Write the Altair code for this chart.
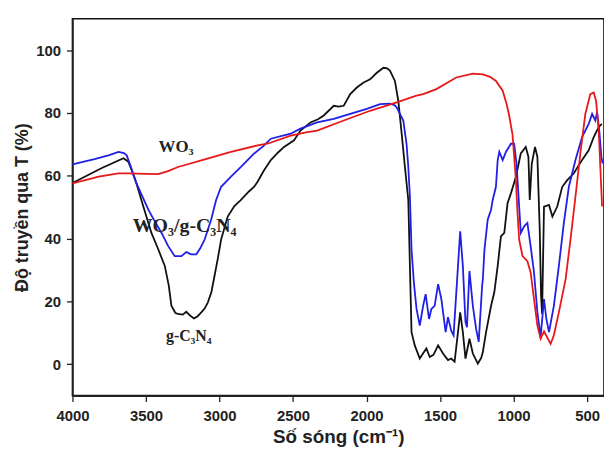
import altair as alt
import pandas as pd

# g-C3N4 (black)
gcn_x = [4000, 3800, 3653, 3620, 3574, 3520, 3463, 3420, 3372, 3345, 3327, 3300, 3282, 3250, 3226, 3200, 3174, 3150,
         3124, 3100, 3079, 3055, 3034, 3010, 2989, 2944, 2900, 2854, 2800, 2764, 2741, 2700, 2651, 2600, 2561, 2493,
         2449, 2381, 2330, 2291, 2223, 2190, 2155, 2111, 2066, 2020, 1976, 1930, 1885, 1860, 1840, 1807, 1784, 1761,
         1739, 1716, 1705, 1694, 1672, 1638, 1615, 1593, 1570, 1545, 1513, 1480, 1446, 1424, 1401, 1378, 1363, 1345,
         1327, 1300, 1277, 1243, 1220, 1209, 1187, 1153, 1131, 1108, 1086, 1063, 1041, 1018, 984, 951, 917, 899, 890,
         876, 854, 838, 822, 813, 806, 793, 759, 736, 703, 669, 635, 590, 534, 489, 455, 421, 400]
gcn_y = [57.7, 62.5, 65.6, 64.5, 59.0, 50.5, 41.8, 37.0, 31.3, 25.0, 18.6, 16.3, 16.0, 15.8, 16.7, 15.5, 14.6, 15.2,
         16.5, 17.8, 19.7, 23.0, 28.1, 34.0, 39.7, 47.0, 50.3, 52.3, 55.0, 56.5, 58.1, 61.5, 65.0, 67.5, 69.2, 71.3,
         74.4, 77.0, 78.0, 79.2, 82.3, 82.0, 82.3, 86.0, 88.1, 89.7, 90.7, 92.8, 94.4, 94.2, 93.4, 90.2, 83.9, 73.4,
         62.8, 52.3, 31.3, 10.2, 6.0, 1.8, 3.5, 5.0, 2.3, 3.0, 6.0, 3.4, 1.3, 1.8, 0.8, 10.2, 16.5, 10.2,
         1.8, 8.1, 3.4, 0.2, 2.0, 3.9, 10.2, 18.6, 22.9, 31.3, 40.7, 41.8, 51.3, 54.4, 59.7, 67.1, 69.2, 66.0, 52.3,
         63.9, 69.2, 66.0, 42.8, 21.8, 16.0, 50.2, 50.7, 47.0, 50.2, 56.5, 58.6, 60.8, 65.0, 68.1, 72.3, 75.5, 76.5]

# WO3/g-C3N4 (blue)
comp_x = [4000, 3850, 3750, 3687, 3650, 3631, 3600, 3574, 3530, 3484, 3440, 3394, 3349, 3304, 3259, 3226, 3192, 3158,
          3130, 3101, 3057, 3023, 2989, 2922, 2854, 2764, 2700, 2651, 2516, 2449, 2336, 2223, 2111, 1998, 1908, 1840,
          1810, 1795, 1750, 1728, 1716, 1705, 1694, 1678, 1660, 1638, 1615, 1598, 1575, 1559, 1537, 1513, 1491, 1462,
          1446, 1424, 1408, 1378, 1363, 1345, 1327, 1317, 1300, 1277, 1255, 1237, 1214, 1209, 1198, 1176, 1153, 1142,
          1120, 1108, 1097, 1074, 1052, 1018, 996, 980, 962, 951, 928, 906, 884, 861, 838, 816, 793, 777, 759, 726,
          692, 658, 624, 579, 534, 489, 466, 444, 432, 417, 403, 394]
comp_y = [63.6, 65.3, 66.6, 67.6, 67.2, 66.5, 62.5, 58.6, 54.0, 49.2, 45.5, 41.8, 37.6, 34.4, 34.4, 35.7, 35.0, 35.0,
          37.0, 39.7, 46.0, 52.3, 56.5, 59.7, 62.8, 67.1, 69.5, 71.8, 73.4, 75.0, 77.0, 78.1, 79.7, 81.3, 82.8, 83.0,
          82.5, 81.8, 77.6, 70.2, 62.8, 53.4, 36.5, 26.0, 17.6, 12.3, 18.6, 22.3, 14.4, 17.6, 18.6, 25.5, 20.7, 10.2,
          15.0, 10.7, 9.2, 31.3, 42.3, 31.3, 13.4, 11.8, 29.7, 18.6, 11.3, 7.1, 24.9, 27.1, 36.5, 46.0, 49.2, 52.3,
          56.5, 65.0, 67.6, 65.0, 67.6, 70.2, 70.2, 63.9, 50.2, 41.8, 43.9, 45.0, 37.6, 29.2, 16.5, 8.7, 20.7, 14.4,
          10.2, 18.6, 31.3, 45.0, 56.5, 65.0, 72.3, 76.5, 79.7, 77.6, 80.2, 74.4, 66.0, 63.9]

# WO3 (red)
wo3_x = [4000, 3900, 3822, 3687, 3620, 3500, 3417, 3350, 3282, 3100, 2922, 2741, 2674, 2516, 2403, 2336, 2155, 1976,
         1795, 1660, 1615, 1525, 1390, 1277, 1209, 1160, 1120, 1074, 1047, 1030, 1007, 984, 973, 962, 939, 906, 884,
         861, 838, 816, 793, 748, 726, 692, 646, 613, 579, 546, 512, 478, 455, 439, 421, 410, 398]
wo3_y = [57.6, 58.8, 59.7, 60.8, 60.8, 60.6, 60.5, 61.5, 62.8, 65.2, 67.6, 69.7, 70.2, 72.8, 73.9, 74.4, 77.6, 80.7,
         83.4, 85.5, 86.0, 87.6, 91.3, 92.5, 92.3, 91.5, 90.2, 87.1, 82.8, 79.2, 73.0, 58.6, 48.1, 39.7, 34.4, 32.8, 29.2,
         20.7, 12.3, 8.1, 10.5, 6.5, 9.2, 16.5, 27.1, 39.7, 53.4, 67.1, 79.7, 86.0, 86.5, 83.9, 74.4, 62.8, 50.2]

series_names = ["g-C3N4", "WO3/g-C3N4", "WO3"]
series_colors = ["#111111", "#1f1fe6", "#e81818"]

label_text = ["WO₃", "WO₃/g-C₃N₄", "g-C₃N₄"]
label_x = [3295, 3237, 3209]
label_y = [69.2, 43.9, 9.0]
label_size = [17, 20, 16]

rows = []
for name, xs, ys in [(series_names[0], gcn_x, gcn_y), (series_names[1], comp_x, comp_y), (series_names[2], wo3_x, wo3_y)]:
    for i, (x, y) in enumerate(zip(xs, ys)):
        rows.append({"series": name, "wn": x, "T": y, "i": i})
df = pd.DataFrame(rows)

lab = pd.DataFrame({"text": label_text, "x": label_x, "y": label_y, "size": label_size})

xscale = alt.Scale(domain=[385, 4000], reverse=True, nice=False, zero=False)
yscale = alt.Scale(domain=[-10, 110], nice=False, zero=False)

x_axis = alt.Axis(
    values=list(range(500, 4001, 250)),
    labelExpr="datum.value % 500 == 0 ? datum.label : ''",
    format="d",
    labelFlush=False,
    labelPadding=7,
    title="Số sóng (cm⁻¹)",
    titleFontSize=19,
    titlePadding=4,
)
y_axis = alt.Axis(
    values=list(range(0, 101, 10)),
    labelExpr="datum.value % 20 == 0 ? datum.label : ''",
    format="d",
    labelFlush=False,
    labelPadding=6,
    title="Độ truyền qua T (%)",
    titleFontSize=18,
    titlePadding=4,
)

lines = alt.Chart(df).mark_line(strokeWidth=1.8).encode(
    x=alt.X("wn:Q", scale=xscale, axis=x_axis),
    y=alt.Y("T:Q", scale=yscale, axis=y_axis),
    color=alt.Color("series:N", scale=alt.Scale(domain=series_names, range=series_colors), legend=None),
    order="i:Q",
    detail="series:N",
)

texts = alt.Chart(lab).mark_text(font="Liberation Serif", fontWeight="bold", color="#222222").encode(
    x=alt.X("x:Q", scale=xscale),
    y=alt.Y("y:Q", scale=yscale),
    text="text:N",
    size=alt.Size("size:Q", scale=None, legend=None),
)

chart = alt.layer(lines, texts).properties(
    width=536,
    height=380,
    autosize=alt.AutoSizeParams(type="none"),
    padding={"left": 65, "top": 9, "right": 0, "bottom": 54},
).configure_view(
    stroke="#111111", strokeWidth=1.6
).configure_axis(
    labelFont="Liberation Sans", labelFontWeight="bold", labelFontSize=15, labelColor="#222222",
    titleFont="Liberation Sans", titleFontWeight="bold", titleColor="#222222",
    tickColor="#222222", domainColor="#222222", tickSize=6, tickWidth=1.3, domainWidth=1.6,
    grid=False,
)

chart.save("out.html", embed_options={"renderer": "svg", "actions": False})
